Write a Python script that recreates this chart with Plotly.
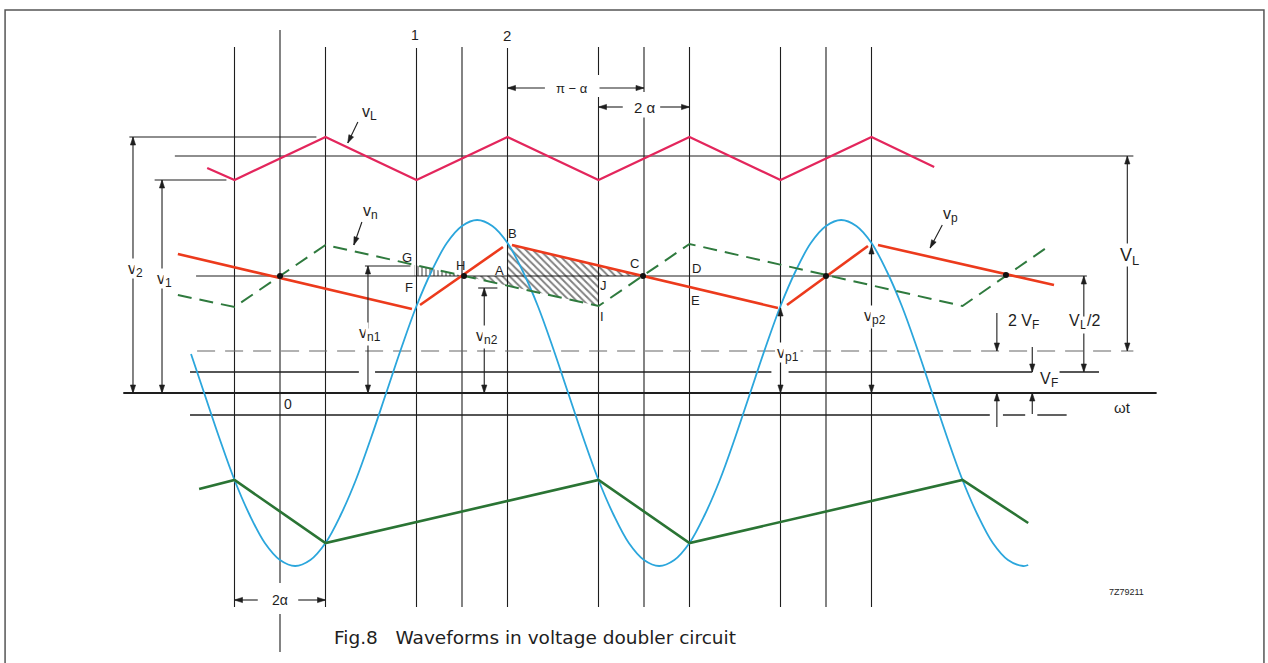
import math
import plotly.graph_objects as go

# ---------------- diagram data ----------------
# x: wt in degrees (0 at the "0" line), y: voltage in arbitrary units (0 on the wt axis)

# vertical construction lines
grid_x = [-45, 0, 45, 135, 180, 225, 315, 360, 405, 495, 540, 585]
grid_top = [346, 363, 346, 345, 346, 345, 346, 346, 346, 346, 346, 346]
grid_bot = [-214, -259, -214, -214, -214, -214, -214, -214, -214, -214, -214, -214]
grid_gap_x = [0, 315, 360]
grid_gap_hi = [-190, 318, 301]
grid_gap_lo = [-221, 296, 278]

# load voltage vL (triangle)
vL_x = [-72, -45, 45, 135, 225, 315, 405, 495, 585, 647]
vL_y = [225, 213, 256, 213, 256, 213, 256, 213, 256, 226]

# vp (red, solid)
vp_x = [-101, 130.5, None, 138.5, 220.5, None, 229.4, 492.5, None, 501.4, 581.5, None, 591.4, 765.5]
vp_y = [139, 84, None, 88, 146, None, 148, 85, None, 88, 147, None, 148, 108]

# vn (green, dashed)
vn_x = [-101, -45, 45, 315, 405, 675, 762]
vn_y = [98, 86, 148, 87, 149, 87, 148]

# lower green waveform
vlow_x = [-80, -45, 45, 315, 405, 675, 740]
vlow_y = [-96, -87, -150, -87, -150, -87, -130]

# supply voltage (blue)
sine_x = [-88, -75, -60, -45, -30, -15, 0, 15, 30, 45, 60, 75, 90, 105, 120, 135, 150, 165,
          180, 195, 210, 225, 240, 255, 270, 285, 300, 315, 330, 345, 360, 375, 390, 405,
          420, 435, 450, 465, 480, 495, 510, 525, 540, 555, 570, 585, 600, 615, 630, 645,
          660, 675, 690, 705, 720, 735, 740]
sine_y = [39, 0, -45, -87, -122, -150, -167, -173, -167, -150, -122, -87, -45, 0, 45, 87, 122, 150,
          167, 173, 167, 150, 122, 87, 45, 0, -45, -87, -122, -150, -167, -173, -167, -150,
          -122, -87, -45, 0, 45, 87, 122, 150, 167, 173, 167, 150, 122, 87, 45, 0,
          -45, -87, -122, -150, -167, -173, -172]

# crossing dots on the mid level
cross_x = [0, 182, 359, 540, 718]
cross_y = [117, 117, 117, 117, 118]

# horizontal reference levels
lvl_v2_y, lvl_v2_x = 256, [-149, 36]
lvl_vLm_y, lvl_vLm_x = 237, [-104, 844]
lvl_v1_y, lvl_v1_x = 213, [-124, -53]
lvl_mid_y, lvl_mid_x = 117, [-83, 798]
lvl_2vf_y, lvl_2vf_x = 42, [-82, 844]
lvl_vf_y, lvl_vf_x = 21, [-89, 78, None, 94, 486, None, 503, 744, None, 771, 810]
lvl_axis_y, lvl_axis_x = 0, [-155, 867]
lvl_neg_y, lvl_neg_x = -22, [-89, 702, None, 715, 737, None, 749, 778]
lvl_vn1_y, lvl_vn1_x = 127, [84, 129]
lvl_vn2_y, lvl_vn2_x = 105, [196, 215]

# hatched areas
hatch1_x, hatch1_y = [225, 225, 229.4, 359, 225], [117, 148, 148, 117, 117]
hatch2_x, hatch2_y = [182, 315, 315, 182], [117, 117, 87, 117]
hatch3_x, hatch3_y = [133, 133, 182, 133], [117, 128, 117, 117]

# double-headed dimension arrows
dim_x = [-145.4, -116.7, 87, 202, 495, 585, 838, 795]
dim_lo = [0, 0, 0, 0, 0, 0, 42, 21]
dim_hi = [256, 213, 127, 105, 85, 147, 237, 117]

# single arrows: tail (x, y) -> head (x, y)
arr_tx = [77, 81, 655, 709, 709, 744, 744, 262, 316, 339, 376, -22, 18]
arr_ty = [271, 171, 168, 80, -34, 46, -21, 305, 305, 286, 286, -207, -207]
arr_hx = [67, 73, 643, 709, 709, 744, 744, 225, 360, 315, 405, -45, 45]
arr_hy = [250, 148, 145, 42, 0, 21, 0, 305, 305, 286, 286, -207, -207]

# symbol labels: base text, subscript, trailing text
sym_base = ['v', 'v', 'v', 'v', 'v', 'v', 'V', 'V', '2 V', 'V', 'v', 'v', 'v']
sym_sub = ['2', '1', 'n1', 'n2', 'p1', 'p2', 'L', 'L', 'F', 'F', 'L', 'n', 'p']
sym_tail = ['', '', '', '', '', '', '', '/2', '', '', '', '', '']
sym_x = [-145.4, -116.7, 87, 202, 500, 586, 838, 794, 734, 759, 86, 87, 661]
sym_y = [125, 115, 61, 58, 41, 78, 138, 73, 73, 15, 282, 183, 180]
sym_size = [16, 16, 16, 16, 16, 16, 18, 16, 16, 16, 16, 16, 16]
sym_bg = [1, 1, 1, 1, 1, 1, 1, 1, 0, 1, 0, 0, 0]

# plain text labels
lab_text = ['π − α', '2 α', '2α', 'ωt', '0', '1', '2']
lab_x = [289, 361, 0, 833, 8, 133.5, 224.5]
lab_y = [305, 286, -207, -14, -11, 358, 358]
lab_size = [13, 15, 14, 15, 14, 14, 15]
lab_bg = [1, 1, 1, 0, 0, 0, 0]

pt_text = ['G', 'F', 'H', 'A', 'B', 'C', 'D', 'E', 'J', 'I']
pt_x = [125.6, 127.6, 179, 216.6, 229.5, 351, 412, 411, 320, 318]
pt_y = [136, 106, 128, 123, 160, 130, 125, 93, 108, 77]

caption = 'Fig.8   Waveforms in voltage doubler circuit'
code = '7Z79211'

# ---------------- figure ----------------
INK = '#1e1e1e'
FONT = 'Liberation Sans'
X_RANGE = [-276.93, 977.15]
Y_RANGE = [-270, 393]
SX = 1268 / (X_RANGE[1] - X_RANGE[0])   # px per x unit
SY = 663 / (Y_RANGE[1] - Y_RANGE[0])    # px per y unit
# approximate advance widths (em) of Liberation Sans, used to lay out subscripts
ADV = {'v': 0.5, 'V': 0.667, 'n': 0.556, 'p': 0.556, 'L': 0.556, 'F': 0.611, '/': 0.278, ' ': 0.278}
fig = go.Figure()


def tw(s, size):
    return sum(ADV.get(c, 0.556) for c in s) * size


def seg(xs, y):
    return [y if v is not None else None for v in xs]


def head(tx, ty, fx, fy, L=8.0, W=2.6):
    """filled arrow head with its tip at (tx, ty), pointing away from (fx, fy)"""
    dx, dy = (tx - fx) * SX, (ty - fy) * SY
    n = math.hypot(dx, dy)
    ux, uy = dx / n, dy / n
    bx, by = tx * SX - ux * L, ty * SY - uy * L
    nx, ny = -uy, ux
    return ([tx, (bx + nx * W) / SX, (bx - nx * W) / SX, tx, None],
            [ty, (by + ny * W) / SY, (by - ny * W) / SY, ty, None])


# vertical lines
gx, gy = [], []
for x, t, b in zip(grid_x, grid_top, grid_bot):
    if x in grid_gap_x:
        i = grid_gap_x.index(x)
        gx += [x, x, None, x, x, None]
        gy += [t, grid_gap_hi[i], None, grid_gap_lo[i], b, None]
    else:
        gx += [x, x, None]
        gy += [t, b, None]
fig.add_trace(go.Scatter(x=gx, y=gy, mode='lines', line=dict(color=INK, width=1.1)))

# horizontal reference lines
for xs, y, w in [(lvl_v2_x, lvl_v2_y, 1.1), (lvl_vLm_x, lvl_vLm_y, 1.1), (lvl_v1_x, lvl_v1_y, 1.1),
                 (lvl_mid_x, lvl_mid_y, 1.1), (lvl_vf_x, lvl_vf_y, 1.4), (lvl_axis_x, lvl_axis_y, 2.2),
                 (lvl_neg_x, lvl_neg_y, 1.4), (lvl_vn1_x, lvl_vn1_y, 1.1), (lvl_vn2_x, lvl_vn2_y, 1.1)]:
    fig.add_trace(go.Scatter(x=xs, y=seg(xs, y), mode='lines', line=dict(color=INK, width=w)))
fig.add_trace(go.Scatter(x=lvl_2vf_x, y=seg(lvl_2vf_x, lvl_2vf_y), mode='lines',
                         line=dict(color='#666', width=1.2, dash='18px,10px')))

# hatching
for hx, hy, shp, sz in [(hatch1_x, hatch1_y, '\\', 5), (hatch2_x, hatch2_y, '\\', 5), (hatch3_x, hatch3_y, '|', 4)]:
    fig.add_trace(go.Scatter(x=hx, y=hy, mode='lines', fill='toself', line=dict(width=0),
                             fillcolor='rgba(0,0,0,0)',
                             fillpattern=dict(shape=shp, fgcolor='#000000', bgcolor='rgba(255,255,255,0)',
                                              size=sz, solidity=0.38)))

# waveforms
fig.add_trace(go.Scatter(x=sine_x, y=sine_y, mode='lines', line=dict(color='#2ba6dc', width=1.8, shape='spline')))
fig.add_trace(go.Scatter(x=vL_x, y=vL_y, mode='lines', line=dict(color='#e3265c', width=2.2)))
fig.add_trace(go.Scatter(x=vn_x, y=vn_y, mode='lines', line=dict(color='#2f7a3e', width=2, dash='14px,8px')))
fig.add_trace(go.Scatter(x=vp_x, y=vp_y, mode='lines', line=dict(color='#ec3a1c', width=2.6)))
fig.add_trace(go.Scatter(x=vlow_x, y=vlow_y, mode='lines', line=dict(color='#2a7434', width=2.6)))
fig.add_trace(go.Scatter(x=cross_x, y=cross_y, mode='markers', marker=dict(color='#111', size=6)))

# arrows: shafts and filled heads
sx_, sy_, hx_, hy_ = [], [], [], []
for x, lo, hi in zip(dim_x, dim_lo, dim_hi):
    sx_ += [x, x, None]
    sy_ += [lo, hi, None]
    a, b = head(x, hi, x, lo)
    hx_ += a; hy_ += b
    a, b = head(x, lo, x, hi)
    hx_ += a; hy_ += b
for tx, ty, ex, ey in zip(arr_tx, arr_ty, arr_hx, arr_hy):
    sx_ += [tx, ex, None]
    sy_ += [ty, ey, None]
    a, b = head(ex, ey, tx, ty)
    hx_ += a; hy_ += b
fig.add_trace(go.Scatter(x=sx_, y=sy_, mode='lines', line=dict(color=INK, width=1.1)))
fig.add_trace(go.Scatter(x=hx_, y=hy_, mode='lines', fill='toself', fillcolor=INK,
                         line=dict(color=INK, width=0.6)))

ann = []
# symbol labels built from a base, a lowered smaller subscript and an optional tail
for b, s, t, x, y, size, bg in zip(sym_base, sym_sub, sym_tail, sym_x, sym_y, sym_size, sym_bg):
    ssize = round(size * 0.72)
    wb, ws, wt = tw(b, size), tw(s, ssize), tw(t, size)
    left = -(wb + ws + wt) / 2
    pieces = [(b, size, left, 0), (s, ssize, left + wb, -0.32 * size)]
    if t:
        pieces.append((t, size, left + wb + ws, 0))
    for txt, fs, xs, ys in pieces:
        ann.append(dict(x=x, y=y, xref='x', yref='y', text=txt, showarrow=False,
                        font=dict(family=FONT, size=fs, color=INK),
                        bgcolor='white' if bg else None, borderpad=1,
                        xanchor='left', yanchor='middle', xshift=xs, yshift=ys))
for t, x, y, s, bg in zip(lab_text, lab_x, lab_y, lab_size, lab_bg):
    ann.append(dict(x=x, y=y, xref='x', yref='y', text=t, showarrow=False,
                    font=dict(family=FONT, size=s, color=INK),
                    bgcolor='white' if bg else None, borderpad=1,
                    xanchor='center', yanchor='middle'))
for t, x, y in zip(pt_text, pt_x, pt_y):
    ann.append(dict(x=x, y=y, xref='x', yref='y', text=t, showarrow=False,
                    font=dict(family=FONT, size=13, color=INK), xanchor='center', yanchor='middle'))
ann.append(dict(x=252, y=-244, xref='x', yref='y', text=caption, showarrow=False,
                font=dict(family='DejaVu Sans', size=18.5, color=INK), xanchor='center', yanchor='middle'))
ann.append(dict(x=837, y=-199, xref='x', yref='y', text=code, showarrow=False,
                font=dict(family=FONT, size=9, color=INK), xanchor='center', yanchor='middle'))

fig.update_layout(
    width=1268, height=663, margin=dict(l=0, r=0, t=0, b=0),
    paper_bgcolor='white', plot_bgcolor='white', showlegend=False,
    xaxis=dict(range=X_RANGE, visible=False, fixedrange=True),
    yaxis=dict(range=Y_RANGE, visible=False, fixedrange=True),
    annotations=ann,
    shapes=[dict(type='rect', xref='paper', yref='paper', x0=0.004, x1=0.9968, y0=-0.02, y1=0.985,
                 line=dict(color='#555', width=1.5))],
)
fig.write_html('out.html')
